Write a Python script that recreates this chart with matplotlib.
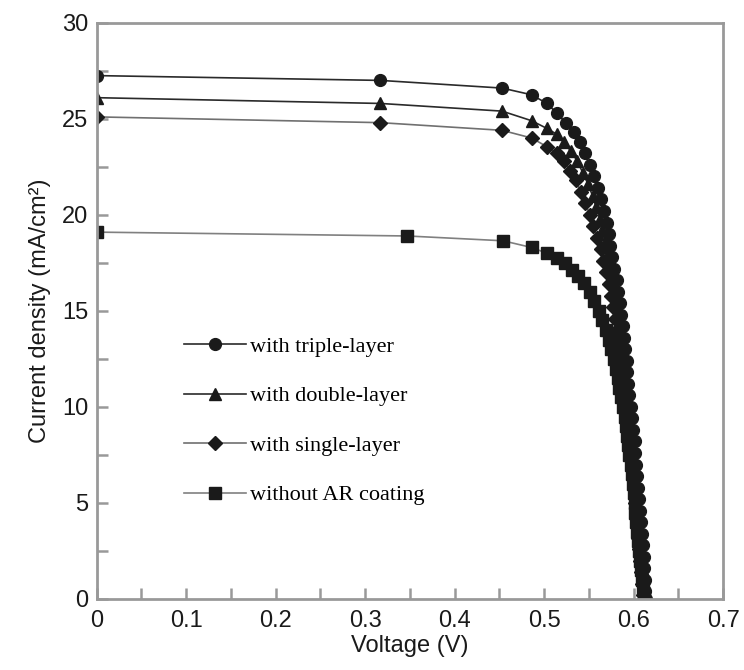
import matplotlib.pyplot as plt
from matplotlib.ticker import MultipleLocator, FuncFormatter

# I-V data: voltage (V), current density (mA/cm2)
v_triple = [0.0, 0.317, 0.453, 0.486, 0.503, 0.514, 0.524, 0.533, 0.540, 0.546,
            0.551, 0.556, 0.560, 0.564, 0.567, 0.570, 0.572, 0.574, 0.576, 0.578,
            0.581, 0.583, 0.585, 0.586, 0.588, 0.589, 0.590, 0.592, 0.593, 0.594,
            0.595, 0.597, 0.598, 0.599, 0.601, 0.602, 0.603, 0.604, 0.605, 0.606,
            0.607, 0.608, 0.609, 0.610, 0.611, 0.612, 0.613, 0.613, 0.614]
j_triple = [27.25, 27.0, 26.6, 26.25, 25.8, 25.3, 24.8, 24.3, 23.8, 23.2,
            22.6, 22.0, 21.4, 20.8, 20.2, 19.6, 19.0, 18.4, 17.8, 17.2,
            16.6, 16.0, 15.4, 14.8, 14.2, 13.6, 13.0, 12.4, 11.8, 11.2,
            10.6, 10.0, 9.4, 8.8, 8.2, 7.6, 7.0, 6.4, 5.8, 5.2,
            4.6, 4.0, 3.4, 2.8, 2.2, 1.6, 1.0, 0.4, 0.0]

v_double = [0.0, 0.317, 0.453, 0.486, 0.503, 0.514, 0.522, 0.530, 0.537, 0.543,
            0.549, 0.554, 0.558, 0.562, 0.565, 0.568, 0.571, 0.574, 0.576, 0.579,
            0.581, 0.583, 0.584, 0.586, 0.588, 0.589, 0.591, 0.592, 0.593, 0.594,
            0.596, 0.597, 0.598, 0.600, 0.601, 0.602, 0.603, 0.604, 0.605, 0.606,
            0.607, 0.608, 0.609, 0.610, 0.611, 0.612, 0.613]
j_double = [26.1, 25.8, 25.4, 24.9, 24.5, 24.2, 23.8, 23.3, 22.8, 22.2,
            21.6, 21.0, 20.4, 19.8, 19.2, 18.6, 18.0, 17.4, 16.8, 16.2,
            15.6, 15.0, 14.4, 13.8, 13.2, 12.6, 12.0, 11.4, 10.8, 10.2,
            9.6, 9.0, 8.4, 7.8, 7.2, 6.6, 6.0, 5.4, 4.8, 4.2,
            3.6, 3.0, 2.4, 1.8, 1.2, 0.6, 0.0]

v_single = [0.0, 0.317, 0.453, 0.486, 0.503, 0.514, 0.522, 0.529, 0.535, 0.541,
            0.546, 0.551, 0.555, 0.559, 0.563, 0.566, 0.569, 0.572, 0.575, 0.577,
            0.579, 0.581, 0.583, 0.585, 0.586, 0.588, 0.589, 0.590, 0.592, 0.593,
            0.595, 0.596, 0.597, 0.599, 0.600, 0.601, 0.602, 0.603, 0.604, 0.605,
            0.606, 0.607, 0.608, 0.609, 0.610, 0.611]
j_single = [25.1, 24.8, 24.4, 24.0, 23.55, 23.2, 22.8, 22.3, 21.8, 21.2,
            20.6, 20.0, 19.4, 18.8, 18.2, 17.6, 17.0, 16.4, 15.8, 15.2,
            14.6, 14.0, 13.4, 12.8, 12.2, 11.6, 11.0, 10.4, 9.8, 9.2,
            8.6, 8.0, 7.4, 6.8, 6.2, 5.6, 5.0, 4.4, 3.8, 3.2,
            2.6, 2.0, 1.4, 0.8, 0.2, 0.0]

v_noar = [0.0, 0.347, 0.454, 0.486, 0.503, 0.514, 0.523, 0.531, 0.538, 0.545,
          0.551, 0.556, 0.561, 0.565, 0.569, 0.572, 0.575, 0.578, 0.580, 0.582,
          0.584, 0.586, 0.588, 0.590, 0.591, 0.593, 0.594, 0.595, 0.597, 0.598,
          0.599, 0.600, 0.601, 0.602, 0.603, 0.604, 0.605, 0.606, 0.607, 0.608,
          0.609, 0.610, 0.611]
j_noar = [19.1, 18.9, 18.65, 18.3, 18.0, 17.75, 17.5, 17.15, 16.8, 16.45,
          16.0, 15.5, 15.0, 14.5, 14.0, 13.5, 13.0, 12.5, 12.0, 11.5,
          11.0, 10.5, 10.0, 9.5, 9.0, 8.5, 8.0, 7.5, 7.0, 6.5,
          6.0, 5.5, 5.0, 4.5, 4.0, 3.5, 3.0, 2.5, 2.0, 1.5,
          1.0, 0.5, 0.0]

labels = ['with triple-layer', 'with double-layer',
          'with single-layer', 'without AR coating']

plt.rcParams['font.family'] = ['Liberation Sans', 'DejaVu Sans']

fig = plt.figure(figsize=(7.44, 6.70), dpi=100)
ax = fig.add_axes([0.130, 0.106, 0.842, 0.860])

mk = dict(markersize=8.5, markerfacecolor='#1a1a1a', markeredgecolor='#1a1a1a')
ax.plot(v_noar, j_noar, color='#808080', lw=1.2, marker='s', label=labels[3],
        **dict(mk, markersize=8))
ax.plot(v_single, j_single, color='#707070', lw=1.2, marker='D',
        label=labels[2], **dict(mk, markersize=7))
ax.plot(v_double, j_double, color='#2a2a2a', lw=1.2, marker='^',
        label=labels[1], **dict(mk, markersize=8.5))
ax.plot(v_triple, j_triple, color='#2a2a2a', lw=1.2, marker='o',
        label=labels[0], **mk)

ax.set_xlim(0, 0.7)
ax.set_ylim(0, 30)
ax.xaxis.set_major_locator(MultipleLocator(0.1))
ax.xaxis.set_minor_locator(MultipleLocator(0.05))
ax.yaxis.set_major_locator(MultipleLocator(5))
ax.yaxis.set_minor_locator(MultipleLocator(2.5))
ax.xaxis.set_major_formatter(FuncFormatter(lambda x, _: '0' if abs(x) < 1e-9 else f'{x:.1f}'))
ax.tick_params(which='both', direction='in', length=8, width=1.8,
               color='#999999', top=False, right=False)
ax.tick_params(which='major', labelsize=17, labelcolor='#1a1a1a')
ax.tick_params(axis='x', which='major', pad=8)
ax.tick_params(axis='y', which='major', pad=6)
for s in ax.spines.values():
    s.set_color('#999999')
    s.set_linewidth(2)

ax.set_xlabel('Voltage (V)', fontsize=17, color='#1a1a1a', labelpad=2)
ax.set_ylabel('Current density (mA/cm²)', fontsize=17, color='#1a1a1a', labelpad=8)

handles, labs = ax.get_legend_handles_labels()
order = [3, 2, 1, 0]
ax.legend([handles[i] for i in order], [labs[i] for i in order],
          loc='upper left', bbox_to_anchor=(0.122, 0.475), frameon=False,
          prop={'family': 'Liberation Serif', 'size': 16},
          handlelength=2.8, handletextpad=0.15, labelspacing=1.3, borderpad=0)

fig.savefig('out.png', dpi=100)
